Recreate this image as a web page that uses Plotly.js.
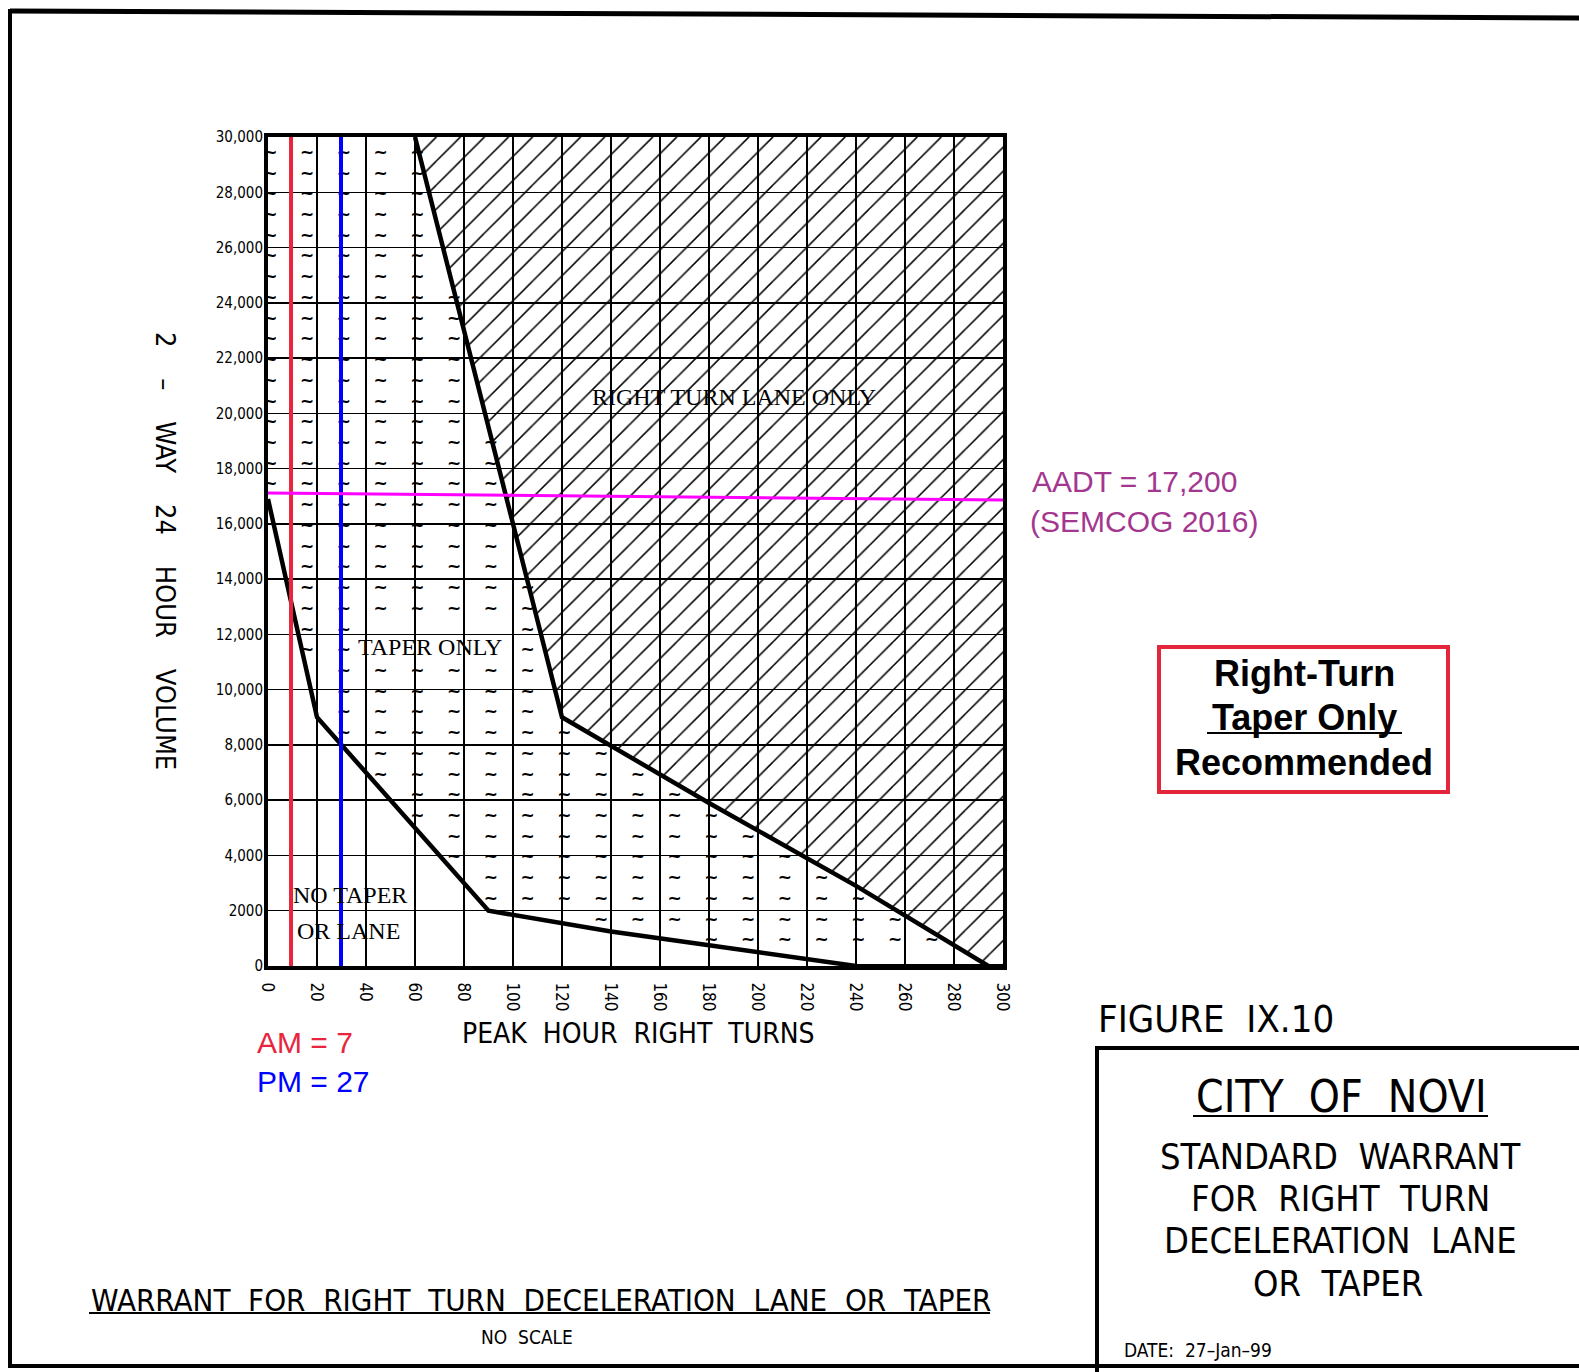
<!DOCTYPE html>
<html><head><meta charset="utf-8">
<script src="https://cdn.plot.ly/plotly-3.0.1.min.js"></script>
<style>html,body{margin:0;padding:0;background:#fff;overflow:hidden}#chart{width:1579px;height:1372px}</style>
</head><body><div id="chart"></div>
<script>
// ---------- data ----------
const xTickVals = [0,20,40,60,80,100,120,140,160,180,200,220,240,260,280,300];
const xTickText = ["0","20","40","60","80","100","120","140","160","180","200","220","240","260","280","300"];
const yTickVals = [0,2000,4000,6000,8000,10000,12000,14000,16000,18000,20000,22000,24000,26000,28000,30000];
const yTickText = ["0","2000","4,000","6,000","8,000","10,000","12,000","14,000","16,000","18,000","20,000","22,000","24,000","26,000","28,000","30,000"];

// boundary: no taper / taper only
const lowerX = [0,20,90,100,140,180,240];
const lowerY = [16900,9000,2000,1850,1250,750,0];
// boundary: taper only / right turn lane only
const upperX = [60,120,180,240,294];
const upperY = [30000,9000,5900,2900,0];

// study values as drawn
const amValue = 7, pmValue = 27, aadtValue = 17200;
const amLineX = [9.4,9.4],  amLineY = [0,30000];
const pmLineX = [29.8,29.8], pmLineY = [0,30000];
const aadtLineX = [0,300],  aadtLineY = [17120,16860];

// region labels
const regionNames = ["RIGHT TURN LANE ONLY","TAPER ONLY","NO TAPER","OR LANE"];
const regionX = [190,66,33.5,33];
const regionY = [20590,11545,2570,1267];

// ---------- layout helpers ----------
const W = 1579, H = 1372, L = 268, T = 137, R = 1003, B = 966;
const PW = R - L, PH = B - T;
const px = v => (v - L) / PW;
const py = v => (B - v) / PH;
const CAD = "'DejaVu Sans Condensed','Liberation Sans Narrow','DejaVu Sans',sans-serif";
const ARIAL = "'Liberation Sans',Arial,sans-serif";
const SERIF = "'Liberation Serif','Times New Roman',serif";

function interp(xs, ys, x) {
  if (x <= xs[0]) return ys[0];
  for (let i = 1; i < xs.length; i++) {
    if (x <= xs[i]) { const t = (x - xs[i-1]) / (xs[i] - xs[i-1]); return ys[i-1] + t * (ys[i] - ys[i-1]); }
  }
  return ys[ys.length-1];
}

// decorative "~" texture inside the taper-only region
const texX = [], texY = [];
for (let j = 0; j <= 20; j++) {
  const x = j * 15 + 1;
  for (let k = 0; k < 40; k++) {
    const y = 150 + k * 750;
    const lo = interp(lowerX, lowerY, x);
    const hi = x <= upperX[0] ? 1e9 : interp(upperX, upperY, x);
    if (y > lo + 150 && y < hi - 100) {
      if (Math.abs(y - regionY[1]) < 700 && Math.abs(x - regionX[1]) < 34) continue;
      texX.push(x); texY.push(y);
    }
  }
}

// hatch polygon: right turn lane only
const hatchX = upperX.concat([300,300,upperX[0]]);
const hatchY = upperY.concat([0,30000,upperY[0]]);

const traces = [
  {x: hatchX, y: hatchY, mode: 'lines', fill: 'toself', line: {width: 0, color: 'rgba(0,0,0,0)'},
   fillcolor: 'rgba(0,0,0,0)',
   fillpattern: {shape: '/', size: 17, solidity: 0.09, fgcolor: '#000', bgcolor: 'rgba(255,255,255,0)', fgopacity: 1},
   hoverinfo: 'skip', showlegend: false},
  {x: texX, y: texY, mode: 'text', text: texX.map(() => '~'), cliponaxis: true,
   textfont: {family: "'DejaVu Sans',sans-serif", size: 17, weight: 'bold', color: '#000'}, textposition: 'middle center',
   hoverinfo: 'skip', showlegend: false},
  {x: lowerX, y: lowerY, mode: 'lines', line: {color: '#000', width: 4.5}, hoverinfo: 'skip', showlegend: false},
  {x: upperX, y: upperY, mode: 'lines', line: {color: '#000', width: 4.5}, hoverinfo: 'skip', showlegend: false},
  {x: [240,300], y: [0,0], mode: 'lines', line: {color: '#000', width: 4}, hoverinfo: 'skip', showlegend: false},
  {x: amLineX, y: amLineY, mode: 'lines', line: {color: '#e8253d', width: 4}, name: 'AM', showlegend: false},
  {x: pmLineX, y: pmLineY, mode: 'lines', line: {color: '#0000ff', width: 4}, name: 'PM', showlegend: false},
  {x: aadtLineX, y: aadtLineY, mode: 'lines', line: {color: '#ff00ff', width: 3}, name: 'AADT', showlegend: false}
];

function ann(text, xp, yp, size, opts) {
  return Object.assign({text: text, x: px(xp), y: py(yp), xref: 'paper', yref: 'paper', showarrow: false,
    xanchor: 'center', yanchor: 'middle', font: {family: CAD, size: size, color: '#000'}}, opts || {});
}
function line(x0, y0, x1, y1, w, c) {
  return {type: 'line', xref: 'paper', yref: 'paper', x0: px(x0), y0: py(y0), x1: px(x1), y1: py(y1),
    line: {color: c || '#000', width: w}};
}

const annotations = [
  ann('2    &#8211;    WAY    24    HOUR    VOLUME', 166, 551, 27, {textangle: 90}),
  ann('PEAK  HOUR  RIGHT  TURNS', 638, 1033, 28),
  ann('AM = ' + amValue, 255, 1042, 30, {xanchor: 'left', font: {family: ARIAL, size: 30, color: '#e8253d'}}),
  ann('PM = ' + pmValue, 255, 1081, 30, {xanchor: 'left', font: {family: ARIAL, size: 30, color: '#0000ff'}}),
  ann('AADT = ' + aadtValue.toLocaleString('en-US'), 1030, 482, 30, {xanchor: 'left', font: {family: ARIAL, size: 30, color: '#a3378f'}}),
  ann('(SEMCOG 2016)', 1028, 521, 30, {xanchor: 'left', font: {family: ARIAL, size: 30, color: '#a3378f'}}),
  ann('<b>Right-Turn</b>', 1304, 674, 36, {font: {family: ARIAL, size: 36, color: '#000'}}),
  ann('<b>Taper Only</b>', 1304, 717, 36, {font: {family: ARIAL, size: 36, color: '#000'}}),
  ann('<b>Recommended</b>', 1304, 762, 36, {font: {family: ARIAL, size: 36, color: '#000'}}),
  ann('FIGURE  IX.10', 1096, 1019, 38, {xanchor: 'left'}),
  ann('CITY  OF  NOVI', 1341, 1096, 44),
  ann('STANDARD  WARRANT', 1340, 1156, 36),
  ann('FOR  RIGHT  TURN', 1340, 1198, 36),
  ann('DECELERATION  LANE', 1340, 1240, 36),
  ann('OR  TAPER', 1338, 1283, 36),
  ann('DATE:  27&#8211;Jan&#8211;99', 1122, 1350, 19, {xanchor: 'left'}),
  ann('WARRANT  FOR  RIGHT  TURN  DECELERATION  LANE  OR  TAPER', 541, 1300, 31),
  ann('NO  SCALE', 527, 1337, 19)
];
regionNames.forEach((n, i) => {
  annotations.push({text: n, x: regionX[i], y: regionY[i], xref: 'x', yref: 'y', showarrow: false,
    xanchor: 'center', yanchor: 'middle', font: {family: SERIF, size: 24, color: '#000'}});
});

const shapes = [
  line(10, 11, 1579, 18, 5),
  line(10, 9, 10, 1368, 4),
  line(8, 1366, 1579, 1366, 4),
  line(1097, 1046, 1097, 1372, 4),
  line(1095, 1048, 1579, 1048, 4),
  line(1193, 1116, 1488, 1116, 2),
  line(89, 1313, 990, 1313, 2),
  line(1207, 733, 1402, 733, 2),
  {type: 'rect', xref: 'paper', yref: 'paper', x0: px(1159), y0: py(647), x1: px(1448), y1: py(792),
   line: {color: '#e3263c', width: 4}, fillcolor: 'rgba(0,0,0,0)'}
];

const layout = {
  width: W, height: H,
  margin: {l: L, r: W - R, t: T, b: H - B, pad: 0},
  paper_bgcolor: '#fff', plot_bgcolor: '#fff',
  showlegend: false,
  font: {family: CAD, color: '#000'},
  xaxis: {range: [0, 300], tickvals: xTickVals, ticktext: xTickText, tickangle: 90,
    showgrid: true, gridcolor: '#000', gridwidth: 1.5, zeroline: false,
    showline: true, mirror: true, linecolor: '#000', linewidth: 4, ticks: '', ticklabelstandoff: 9,
    tickfont: {family: CAD, size: 17, color: '#000'}, fixedrange: true},
  yaxis: {range: [0, 30000], tickvals: yTickVals, ticktext: yTickText,
    showgrid: true, gridcolor: '#000', gridwidth: 1.5, zeroline: false,
    showline: true, mirror: true, linecolor: '#000', linewidth: 4, ticks: '', ticklabelstandoff: -2,
    tickfont: {family: CAD, size: 15, color: '#000'}, fixedrange: true},
  annotations: annotations,
  shapes: shapes
};

Plotly.newPlot('chart', traces, layout, {displayModeBar: false, staticPlot: true});
</script></body></html>
